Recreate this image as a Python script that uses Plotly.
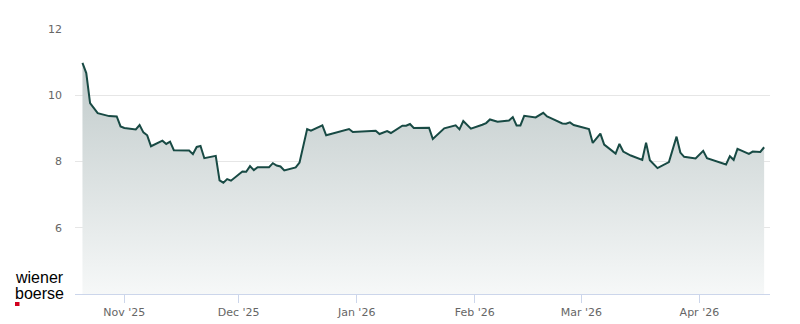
import plotly.graph_objects as go

dates = [
    "2025-10-21", "2025-10-22", "2025-10-23", "2025-10-24", "2025-10-25",
    "2025-10-28", "2025-10-30", "2025-10-31", "2025-11-01",
    "2025-11-04", "2025-11-05", "2025-11-06", "2025-11-07", "2025-11-08",
    "2025-11-11", "2025-11-12", "2025-11-13", "2025-11-14",
    "2025-11-18", "2025-11-19", "2025-11-20", "2025-11-21", "2025-11-22",
    "2025-11-25", "2025-11-26", "2025-11-27", "2025-11-28", "2025-11-29",
    "2025-12-02", "2025-12-03", "2025-12-04", "2025-12-05", "2025-12-06",
    "2025-12-09", "2025-12-10", "2025-12-11", "2025-12-12", "2025-12-13",
    "2025-12-16", "2025-12-17", "2025-12-19", "2025-12-20",
    "2025-12-23", "2025-12-24", "2025-12-30", "2025-12-31",
    "2026-01-06", "2026-01-07", "2026-01-09", "2026-01-10",
    "2026-01-13", "2026-01-14", "2026-01-15", "2026-01-16",
    "2026-01-20", "2026-01-21", "2026-01-24",
    "2026-01-27", "2026-01-28", "2026-01-29", "2026-01-31",
    "2026-02-03", "2026-02-04", "2026-02-05", "2026-02-07",
    "2026-02-10", "2026-02-11", "2026-02-12", "2026-02-13", "2026-02-14",
    "2026-02-17", "2026-02-19", "2026-02-20", "2026-02-21",
    "2026-02-24", "2026-02-25", "2026-02-26", "2026-02-27",
    "2026-03-01", "2026-03-03", "2026-03-04", "2026-03-06", "2026-03-07",
    "2026-03-10", "2026-03-11", "2026-03-12", "2026-03-14",
    "2026-03-17", "2026-03-18", "2026-03-19", "2026-03-21",
    "2026-03-24", "2026-03-26", "2026-03-27", "2026-03-28",
    "2026-03-31", "2026-04-02", "2026-04-03",
    "2026-04-08", "2026-04-09", "2026-04-10", "2026-04-11",
    "2026-04-14", "2026-04-15", "2026-04-17", "2026-04-18",
]

prices = [
    10.98, 10.67, 9.76, 9.59, 9.46,
    9.37, 9.36, 9.06, 9.01,
    8.97, 9.10, 8.88, 8.79, 8.46,
    8.63, 8.53, 8.60, 8.34,
    8.33, 8.22, 8.44, 8.47, 8.10,
    8.17, 7.43, 7.36, 7.47, 7.42,
    7.70, 7.69, 7.86, 7.74, 7.83,
    7.83, 7.95, 7.88, 7.85, 7.73,
    7.82, 7.97, 8.98, 8.93,
    9.09, 8.79, 8.98, 8.89,
    8.93, 8.83, 8.92, 8.86,
    9.08, 9.08, 9.13, 9.01,
    9.02, 8.68, 9.00,
    9.09, 8.97, 9.22, 8.99,
    9.11, 9.16, 9.27, 9.20,
    9.24, 9.34, 9.09, 9.09, 9.38,
    9.33, 9.47, 9.36, 9.31,
    9.15, 9.14, 9.18, 9.10,
    9.03, 8.98, 8.56, 8.84, 8.51,
    8.24, 8.53, 8.30, 8.18,
    8.05, 8.57, 8.04, 7.80,
    7.98, 8.75, 8.27, 8.14,
    8.09, 8.32, 8.10,
    7.91, 8.16, 8.05, 8.38,
    8.23, 8.30, 8.29, 8.43,
]

x_tick_vals = ["2025-11-01", "2025-12-01", "2026-01-01", "2026-02-01", "2026-03-01", "2026-04-01"]
x_tick_text = ["Nov '25", "Dec '25", "Jan '26", "Feb '26", "Mar '26", "Apr '26"]
y_tick_vals = [6, 8, 10, 12]
y_tick_text = ["6", "8", "10", "12"]

fig = go.Figure()
fig.add_trace(go.Scatter(
    x=dates, y=prices, mode="lines",
    line=dict(color="#184a44", width=2),
    fill="tozeroy",
    fillgradient=dict(
        type="vertical",
        colorscale=[[0, "rgb(246,248,248)"], [1, "rgb(192,202,202)"]],
        start=4, stop=11,
    ),
    hoverinfo="skip",
))

fig.update_layout(
    width=800, height=324,
    margin=dict(l=75, r=30, t=29, b=30, autoexpand=False),
    paper_bgcolor="white", plot_bgcolor="white",
    showlegend=False,
    font=dict(family="DejaVu Sans", size=11, color="#666666"),
    xaxis=dict(
        type="date", automargin=False,
        range=["2025-10-19 01:00", "2026-04-19 13:00"],
        tickvals=x_tick_vals, ticktext=x_tick_text,
        ticks="outside", ticklen=8, tickcolor="#ccd6eb", tickwidth=1,
        showgrid=False, showline=True, linecolor="#ccd6eb", linewidth=1,
        zeroline=False,
        tickfont=dict(size=11, color="#666666"),
    ),
    yaxis=dict(
        range=[4, 12], automargin=False,
        tickvals=y_tick_vals, ticktext=y_tick_text,
        showgrid=True, gridcolor="#e6e6e6", gridwidth=1,
        zeroline=False, showline=False,
        ticks="", ticklabelstandoff=12,
        tickfont=dict(size=11, color="#666666"),
    ),
)

fig.add_annotation(
    text="wiener", xref="paper", yref="paper",
    x=(14 - 75) / 695, y=(294 - 277) / 265,
    xanchor="left", yanchor="middle", showarrow=False, borderpad=0,
    font=dict(family="Liberation Sans", size=16, color="#000000"),
)
fig.add_annotation(
    text="boerse", xref="paper", yref="paper",
    x=(14 - 75) / 695, y=(294 - 293) / 265,
    xanchor="left", yanchor="middle", showarrow=False, borderpad=0,
    font=dict(family="Liberation Sans", size=16, color="#000000"),
)
fig.add_shape(
    type="rect", xref="paper", yref="paper",
    x0=(15 - 75) / 695, x1=(19.5 - 75) / 695,
    y0=(294 - 302) / 265, y1=(294 - 306) / 265,
    fillcolor="#d2001e", line=dict(width=0),
)

fig.write_html("out.html")
